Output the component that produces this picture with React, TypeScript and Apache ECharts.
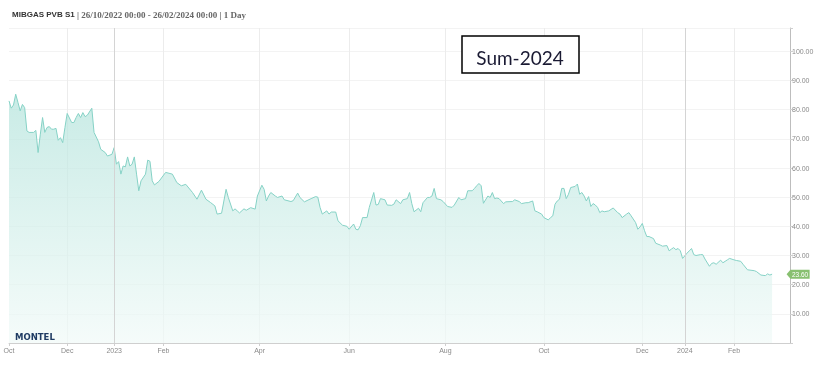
import React, { useEffect, useRef } from 'react';
import * as echarts from 'echarts';

// Trading days (weekdays without exchange holidays)
const startDate = '2022-10-26';
const endDate = '2024-03-07';
const holidays = ['2022-12-26', '2023-04-07', '2023-04-10', '2023-05-01', '2023-12-25', '2023-12-26', '2024-01-01'];

// [trading-day index from 26/10/2022, price EUR/MWh]
const prices: [number, number][] = [
  [0, 83.0], [1, 80.5], [2, 81.6], [3, 85.3], [4, 82.5], [5, 79.6], [6, 81.8], [7, 80.7], [8, 72.7], [9, 72.2],
  [11, 72.2], [12, 72.9], [13, 65.3], [14, 71.6], [15, 77.3], [16, 72.2], [17, 73.9], [18, 74.2], [19, 73.3], [20, 73.3],
  [21, 73.6], [22, 69.5], [23, 70.4], [24, 68.7], [25, 73.9], [26, 78.7], [28, 75.6], [29, 75.6], [30, 77.3], [31, 78.7],
  [32, 77.3], [33, 79.0], [34, 77.6], [35, 78.1], [37, 80.5], [38, 72.2], [40, 69.0], [41, 66.4], [43, 65.3], [44, 64.1],
  [46, 64.7], [47, 67.0], [48, 61.3], [49, 62.2], [50, 57.9], [51, 60.7], [52, 60.4], [53, 63.8], [54, 60.7], [55, 61.3],
  [56, 63.8], [57, 57.9], [58, 52.2], [59, 55.6], [61, 57.9], [62, 62.7], [63, 62.3], [64, 55.6], [65, 54.2], [67, 55.4],
  [70, 58.5], [73, 57.9], [75, 55.0], [77, 53.9], [79, 54.4], [82, 51.6], [84, 49.3], [86, 52.4], [88, 49.3], [90, 48.2],
  [92, 47.0], [93, 44.2], [95, 44.5], [97, 52.7], [98, 49.9], [100, 45.3], [101, 46.0], [102, 45.3], [103, 44.6], [105, 46.0],
  [106, 45.5], [108, 46.4], [110, 45.9], [111, 50.4], [113, 54.1], [114, 52.7], [115, 48.7], [116, 50.4], [117, 51.6], [119, 50.4],
  [120, 49.9], [122, 50.4], [123, 49.1], [126, 48.5], [127, 48.8], [129, 51.4], [130, 49.9], [132, 48.4], [135, 49.5], [137, 50.2],
  [138, 50.0], [139, 46.5], [140, 44.2], [142, 45.3], [143, 44.2], [144, 44.9], [146, 44.9], [147, 41.9], [149, 40.4], [151, 40.0],
  [152, 39.0], [154, 40.8], [155, 39.0], [156, 38.8], [157, 40.2], [158, 43.0], [160, 43.0], [161, 46.5], [163, 51.6], [164, 47.3],
  [165, 47.5], [166, 49.5], [168, 49.1], [169, 47.3], [171, 47.2], [172, 47.6], [173, 49.1], [175, 47.8], [176, 49.1], [178, 49.5],
  [179, 51.6], [180, 47.8], [181, 45.0], [183, 46.2], [184, 45.0], [185, 48.1], [187, 49.9], [188, 49.9], [189, 50.4], [190, 53.0],
  [191, 49.5], [193, 49.1], [194, 48.5], [196, 46.8], [198, 46.5], [199, 47.3], [201, 49.9], [202, 49.1], [204, 49.5], [205, 52.2],
  [207, 52.2], [208, 53.0], [209, 53.9], [210, 54.7], [211, 53.9], [212, 47.9], [214, 50.4], [215, 49.9], [216, 51.6], [217, 49.5],
  [218, 49.7], [219, 49.5], [221, 47.8], [222, 48.4], [225, 48.5], [226, 49.1], [228, 48.5], [229, 47.8], [231, 48.1], [232, 48.1],
  [234, 48.7], [235, 45.3], [236, 45.0], [238, 44.2], [239, 43.0], [241, 42.2], [242, 43.0], [243, 43.6], [244, 47.6], [245, 48.7],
  [246, 49.3], [247, 53.0], [248, 53.0], [249, 49.5], [250, 51.0], [251, 53.3], [253, 53.7], [254, 54.5], [255, 51.0], [256, 51.6],
  [257, 50.4], [258, 48.7], [259, 50.2], [260, 46.8], [261, 47.8], [262, 47.3], [263, 46.5], [264, 44.7], [265, 45.3], [266, 45.0],
  [268, 45.3], [270, 46.3], [272, 44.7], [273, 44.2], [274, 43.0], [276, 44.2], [277, 44.7], [278, 43.6], [280, 41.3], [281, 39.0],
  [282, 39.8], [283, 41.0], [284, 38.5], [285, 36.5], [286, 36.5], [288, 35.8], [289, 34.2], [291, 33.6], [292, 33.2], [294, 33.4],
  [295, 31.6], [296, 32.2], [297, 32.7], [298, 32.0], [299, 32.4], [300, 31.6], [301, 29.0], [303, 30.8], [304, 31.6], [305, 32.4],
  [306, 30.3], [307, 30.0], [309, 30.3], [310, 30.3], [311, 28.8], [313, 26.3], [314, 27.3], [315, 27.5], [316, 27.0], [318, 28.4],
  [319, 27.5], [320, 28.0], [321, 28.5], [322, 29.0], [324, 28.5], [325, 28.3], [327, 28.0], [328, 27.0], [330, 25.1], [333, 24.8],
  [334, 24.5], [336, 23.3], [338, 23.1], [339, 23.7], [340, 23.3], [341, 23.6],
];
const lastPrice = 23.6;
const lastIndex = 341;
const monthNames = ['Jan', 'Feb', 'Mar', 'Apr', 'May', 'Jun', 'Jul', 'Aug', 'Sep', 'Oct', 'Nov', 'Dec'];
const titleMain = 'MIBGAS PVB S1';
const titleSub = '| 26/10/2022 00:00 - 26/02/2024 00:00 | 1 Day';
const boxText = 'Sum-2024';

function buildDates(): string[] {
  const out: string[] = [];
  const d = new Date(startDate + 'T00:00:00Z');
  const end = new Date(endDate + 'T00:00:00Z');
  while (d <= end) {
    const wd = d.getUTCDay();
    const s = d.toISOString().slice(0, 10);
    if (wd !== 0 && wd !== 6 && !holidays.includes(s)) out.push(s);
    d.setUTCDate(d.getUTCDate() + 1);
  }
  return out;
}

export default function App() {
  const ref = useRef<HTMLDivElement>(null);
  useEffect(() => {
    if (!ref.current) return;
    const chart = echarts.init(ref.current, undefined, { renderer: 'svg' });
    const dates = buildDates();
    const labels: Record<number, string> = { 0: monthNames[Number(dates[0].slice(5, 7)) - 1] };
    const yearIdx: number[] = [];
    for (let i = 1; i < dates.length; i++) {
      const m = Number(dates[i].slice(5, 7));
      const pm = Number(dates[i - 1].slice(5, 7));
      if (m !== pm) {
        if (m === 1) {
          labels[i] = dates[i].slice(0, 4);
          yearIdx.push(i);
        } else if (m % 2 === 0) {
          labels[i] = monthNames[m - 1];
        }
      }
    }
    const isMonthLine = (i: number) => i > 0 && labels[i] !== undefined && !yearIdx.includes(i);

    chart.setOption({
      animation: false,
      title: {
        left: 12,
        top: 10,
        padding: 0,
        text: `{a|${titleMain}}{b| ${titleSub}}`,
        textStyle: {
          rich: {
            a: { fontFamily: 'Liberation Sans', fontWeight: 'bold', fontSize: 8, color: '#333' },
            b: { fontFamily: 'Liberation Serif', fontSize: 9, color: '#666' },
          },
        },
      },
      grid: { left: 9, right: 29, top: 28, bottom: 28 },
      xAxis: {
        type: 'category',
        data: dates,
        boundaryGap: false,
        axisLine: { show: true, lineStyle: { color: '#cfcfcf' } },
        axisTick: { show: true, length: 3, interval: (i: number) => labels[i] !== undefined, lineStyle: { color: '#cfcfcf' } },
        axisLabel: {
          interval: (i: number) => labels[i] !== undefined,
          formatter: (_v: string, i: number) => labels[i] ?? '',
          fontFamily: 'Liberation Sans',
          fontSize: 7,
          color: '#8a8a8a',
          margin: 4,
        },
        splitLine: { show: true, interval: (i: number) => isMonthLine(i), lineStyle: { color: '#ececec' } },
      },
      yAxis: {
        type: 'value',
        position: 'right',
        min: 0,
        max: 108,
        interval: 10,
        axisLine: { show: true, lineStyle: { color: '#bdbdbd' } },
        axisTick: { show: true, length: 3, lineStyle: { color: '#cfcfcf' } },
        axisLabel: {
          formatter: (v: number) => (v > 0 && v <= 100 ? v.toFixed(2) : ''),
          fontFamily: 'Liberation Sans',
          fontSize: 7,
          color: '#8a8a8a',
          margin: 2,
        },
        splitLine: { show: true, lineStyle: { color: '#f3f3f3' } },
      },
      series: [
        {
          type: 'line',
          data: prices.map(([i, v]) => [dates[i], v]),
          symbol: 'none',
          lineStyle: { color: '#86d2c6', width: 1 },
          areaStyle: {
            color: new echarts.graphic.LinearGradient(0, 0, 0, 1, [
              { offset: 0, color: '#b2e3db' },
              { offset: 1, color: '#f1faf8' },
            ]),
          },
          markLine: {
            silent: true,
            symbol: 'none',
            label: { show: false },
            lineStyle: { color: '#d4d4d4', type: 'solid', width: 1 },
            data: yearIdx.map((i) => ({ xAxis: dates[i] })),
          },
          markPoint: {
            silent: true,
            symbol: 'path://M0,5 L5,0 L30,0 L30,10 L5,10 Z',
            symbolSize: [23, 9],
            symbolOffset: [26, 0],
            itemStyle: { color: '#88c070' },
            label: { show: true, formatter: lastPrice.toFixed(2), color: '#fff', fontSize: 6.5, fontFamily: 'Liberation Sans', offset: [2, 0] },
            data: [{ coord: [dates[lastIndex], lastPrice] }],
          },
        },
      ],
      graphic: [
        {
          type: 'rect',
          shape: { x: 462, y: 36, width: 117, height: 37 },
          style: { fill: '#fff', stroke: '#000', lineWidth: 1.5 },
          z: 100,
        },
        {
          type: 'text',
          x: 520,
          y: 57,
          style: { text: boxText, fontFamily: 'Lato', fontSize: 19, fill: '#1a1a33', textAlign: 'center', textVerticalAlign: 'middle' },
          z: 101,
        },
        {
          type: 'text',
          x: 15,
          y: 337,
          style: { text: 'MONTEL', fontFamily: 'DejaVu Sans', fontWeight: 'bold', fontSize: 8.5, fill: '#1f3b63', textVerticalAlign: 'middle' },
          z: 101,
        },
      ],
    });
    return () => chart.dispose();
  }, []);
  return <div ref={ref} style={{ position: 'fixed', left: 0, top: 0, width: 819, height: 371 }} />;
}
